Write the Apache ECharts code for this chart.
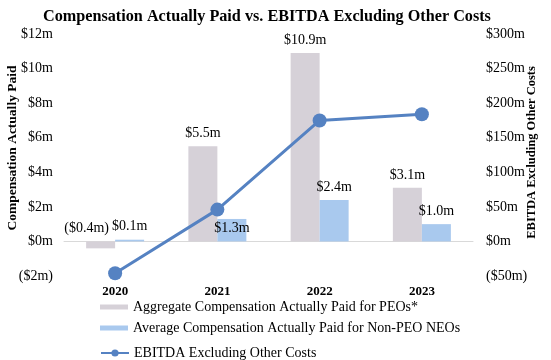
<!DOCTYPE html>
<html><head><meta charset="utf-8">
<script src="https://cdn.jsdelivr.net/npm/echarts@6/dist/echarts.min.js"></script>
<style>html,body{margin:0;padding:0;background:#fff}#c{width:551px;height:360px}</style>
</head><body><div id="c"></div>
<script>
const years = ['2020', '2021', '2022', '2023'];
const peoValues = [-0.4, 5.5, 10.9, 3.1];
const neoValues = [0.1, 1.3, 2.4, 1.0];
const ebitdaValues = [-46, 46, 175, 184];
const leftTicks = { min: -2, max: 12, interval: 2 };
const rightTicks = { min: -50, max: 300, interval: 50 };

const serif = '"Liberation Serif", "Times New Roman", serif';
const fmtM = v => (v < 0 ? '($' + Math.abs(v).toFixed(1) + 'm)' : '$' + v.toFixed(1) + 'm');
const fmtAxis = v => (v < 0 ? '($' + Math.abs(v) + 'm)' : '$' + v + 'm');

const S1 = 'Aggregate Compensation Actually Paid for PEOs*';
const S2 = 'Average Compensation Actually Paid for Non-PEO NEOs';
const S3 = 'EBITDA Excluding Other Costs';
const legendText = { fontFamily: serif, fontSize: 14, color: '#000' };

const chart = echarts.init(document.getElementById('c'), null, { renderer: 'canvas' });
chart.setOption({
  animation: false,
  backgroundColor: '#fff',
  title: {
    text: 'Compensation Actually Paid vs. EBITDA Excluding Other Costs',
    left: 38, top: 4,
    textStyle: { fontFamily: serif, fontWeight: 'bold', fontSize: 16.2, color: '#000' }
  },
  grid: { left: 64, right: 78, top: 34, bottom: 84, outerBoundsMode: 'none', containLabel: false },
  legend: [
    { left: 95, top: 295, itemWidth: 28, itemHeight: 5, textStyle: legendText, data: [{ name: S1, icon: 'rect' }] },
    { left: 95, top: 316, itemWidth: 28, itemHeight: 5, textStyle: legendText, data: [{ name: S2, icon: 'rect' }] },
    { left: 95, top: 341, itemWidth: 28, itemHeight: 9, textStyle: legendText, data: [{ name: S3 }] }
  ],
  xAxis: {
    type: 'category', data: years,
    axisLine: { onZero: true, lineStyle: { color: '#d9d9d9', width: 1 } },
    axisTick: { show: false },
    axisLabel: { fontFamily: serif, fontWeight: 'bold', fontSize: 13, color: '#000', margin: 9 }
  },
  yAxis: [
    {
      type: 'value', min: leftTicks.min, max: leftTicks.max, interval: leftTicks.interval,
      name: 'Compensation Actually Paid', nameLocation: 'middle', nameGap: 44, nameRotate: 90,
      nameMoveOverlap: false,
      nameTextStyle: { fontFamily: serif, fontWeight: 'bold', fontSize: 13.5, color: '#000', padding: [0, 0, 0, 14] },
      splitLine: { show: false }, axisLine: { show: false }, axisTick: { show: false },
      axisLabel: { fontFamily: serif, fontSize: 14, color: '#000', margin: 11, formatter: fmtAxis }
    },
    {
      type: 'value', min: rightTicks.min, max: rightTicks.max, interval: rightTicks.interval,
      name: 'EBITDA Excluding Other Costs', nameLocation: 'middle', nameGap: 52, nameRotate: 90,
      nameMoveOverlap: false,
      nameTextStyle: { fontFamily: serif, fontWeight: 'bold', fontSize: 12.5, color: '#000', padding: [0, 0, 0, 5] },
      splitLine: { show: false }, axisLine: { show: false }, axisTick: { show: false },
      axisLabel: { fontFamily: serif, fontSize: 14, color: '#000', margin: 13, formatter: fmtAxis }
    }
  ],
  series: [
    {
      name: S1, type: 'bar', yAxisIndex: 0,
      barWidth: 29, barGap: '0%',
      itemStyle: { color: '#d6d1d8' },
      label: { show: true, position: 'top', distance: 6, fontFamily: serif, fontSize: 14, color: '#000',
        formatter: p => fmtM(p.value) },
      data: peoValues.map((v, i) => i === 0 ? { value: v, label: { offset: [-14, 0] } } : v)
    },
    {
      name: S2, type: 'bar', yAxisIndex: 0,
      barWidth: 29, barGap: '0%',
      itemStyle: { color: '#a9c9ee' },
      label: { show: true, position: 'top', distance: 6, fontFamily: serif, fontSize: 14, color: '#000',
        formatter: p => fmtM(p.value) },
      data: neoValues.map((v, i) => i === 1 ? { value: v, label: { position: 'insideTop', distance: 2 } } : v)
    },
    {
      name: S3, type: 'line', yAxisIndex: 1, z: 5,
      symbol: 'circle', symbolSize: 14,
      lineStyle: { color: '#5582c2', width: 3 },
      itemStyle: { color: '#5582c2' },
      data: ebitdaValues
    }
  ]
});
</script></body></html>
